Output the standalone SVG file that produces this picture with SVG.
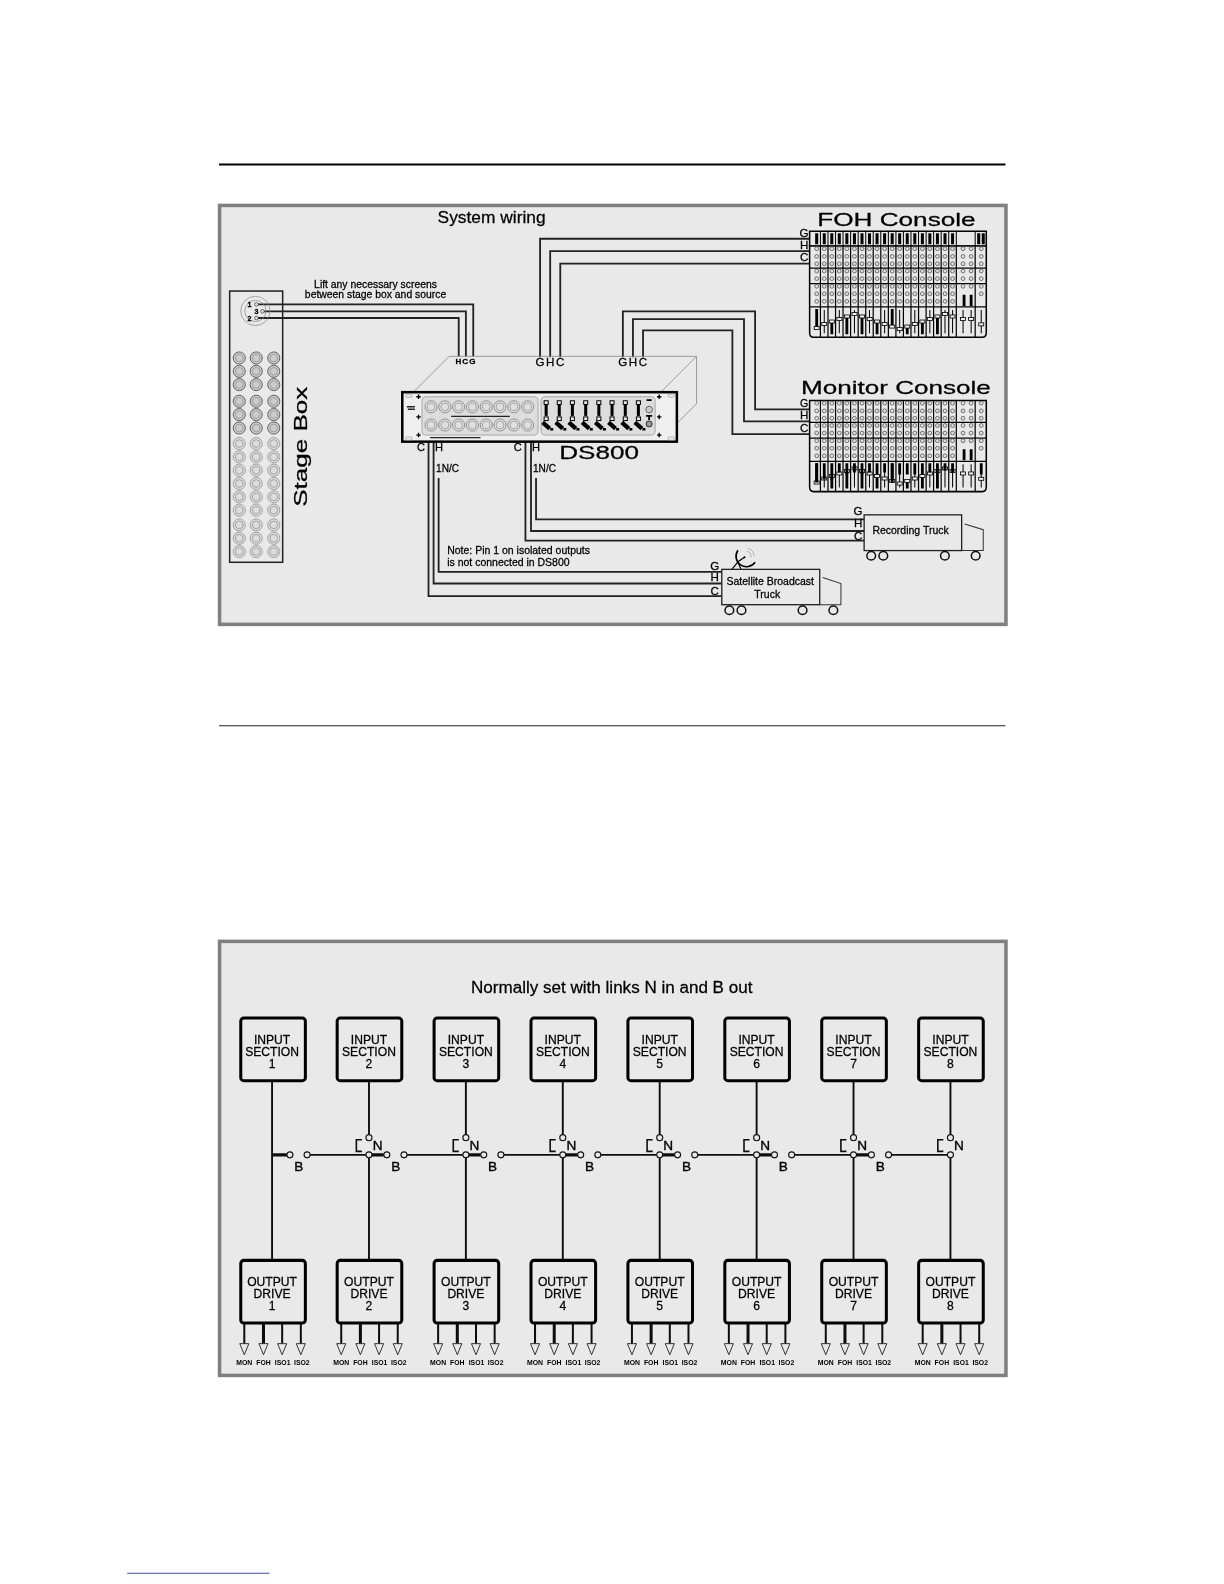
<svg xmlns="http://www.w3.org/2000/svg" width="1224" height="1584" viewBox="0 0 1224 1584">
<style>
text{font-family:"Liberation Sans",Arial,sans-serif;fill:#000;stroke:#000;stroke-width:.25}
.w{fill:none;stroke:#222;stroke-width:1.8}
.l{fill:none;stroke:#000;stroke-width:1.2}
.k{fill:#ddd;stroke:#444;stroke-width:.7}
.xd{fill:#ccc;stroke:#555;stroke-width:.9}
.xl{fill:#ddd;stroke:#999;stroke-width:.9}
.xi{fill:none;stroke:#888;stroke-width:.7}
.s10{font-size:10.4px}.lab{font-size:11.5px;text-anchor:middle}.c{text-anchor:middle}
.big{font-size:18.6px}
.box{fill:#e9e9e9;stroke:#000;stroke-width:3}
.bt{font-size:12px;text-anchor:middle}
.o{font-size:6.8px;text-anchor:middle;font-weight:bold;stroke:none}
.p{fill:#e9e9e9;stroke:#000;stroke-width:1.5}
.n{font-size:13.5px;text-anchor:middle;stroke-width:.35}
.ow{fill:none;stroke:#111;stroke-width:2;marker-end:url(#arr)}
.of{fill:none;stroke:#111;stroke-width:3;marker-end:url(#arr)}
</style>
<defs>
<filter id="soft" filterUnits="userSpaceOnUse" x="0" y="0" width="1300" height="1700"><feGaussianBlur stdDeviation=".35"/></filter>
<marker id="arr" markerUnits="userSpaceOnUse" markerWidth="13" markerHeight="11" viewBox="0 0 13 11" refX=".5" refY="5.5" orient="auto"><path d="M.5 1L11.5 5.5L.5 10Z" fill="#e9e9e9" stroke="#222" stroke-width=".9"/></marker>
<g id="sx"><circle r="6" class="xd"/><circle r="3.8" class="xi"/></g>
<g id="sl"><circle r="6" class="xl"/><circle r="3.8" class="xi"/></g>
<g id="frx"><circle r="6" fill="#e0e0e0" stroke="#888" stroke-width=".9"/><circle r="3.9" class="xi"/></g>
<g id="fader"><rect x="-2" y="-2" width="4" height="3.6" fill="#eee" stroke="#000" stroke-width="1"/><path d="M0 1.6V13" stroke="#000" stroke-width="3"/><rect x="-2" y="14" width="4" height="3.6" fill="#eee" stroke="#000" stroke-width="1"/><path d="M-3.5 19.5L3.5 25.5" stroke="#000" stroke-width="4.2"/><rect x="4" y="25" width="3" height="2.5" fill="#000"/></g>
<g id="kc"><circle cy="246.4" r="1.9" class="k"/><circle cy="254" r="1.9" class="k"/><circle cy="261.3" r="1.9" class="k"/><circle cy="268.5" r="1.9" class="k"/><circle cy="276" r="1.9" class="k"/><circle cy="283.6" r="1.9" class="k"/><circle cy="291" r="1.9" class="k"/><circle cy="298.5" r="1.9" class="k"/></g>
<g id="desk">
<path class="p" d="M802 243.7H977V329.5Q977 334 973 334H806Q802 334 802 329.5Z"/>
<path class="l" d="M812.7 243.7V334M820.2 243.7V334M827.7 243.7V334M835.1 243.7V334M842.6 243.7V334M850.1 243.7V334M857.6 243.7V334M865 243.7V334M872.5 243.7V334M880 243.7V334M887.5 243.7V334M894.9 243.7V334M902.4 243.7V334M909.9 243.7V334M917.4 243.7V334M924.8 243.7V334M932.3 243.7V334M939.8 243.7V334M947.3 243.7V334M966 243.7V334M802 265.5H977M802 281H977M802 304H977"/>
<use href="#kc" x="809"/><use href="#kc" x="816.5"/><use href="#kc" x="824"/><use href="#kc" x="831.4"/><use href="#kc" x="838.9"/><use href="#kc" x="846.4"/><use href="#kc" x="853.9"/><use href="#kc" x="861.3"/><use href="#kc" x="868.8"/><use href="#kc" x="876.3"/><use href="#kc" x="883.8"/><use href="#kc" x="891.2"/><use href="#kc" x="898.7"/><use href="#kc" x="906.2"/><use href="#kc" x="913.7"/><use href="#kc" x="921.1"/><use href="#kc" x="928.6"/><use href="#kc" x="936.1"/><use href="#kc" x="943.6"/>
<g class="k"><circle cx="954" cy="246.4" r="1.9"/><circle cx="954" cy="254" r="1.9"/><circle cx="954" cy="261.3" r="1.9"/><circle cx="954" cy="268.5" r="1.9"/><circle cx="954" cy="276" r="1.9"/><circle cx="954" cy="283.6" r="1.9"/><circle cx="962" cy="246.4" r="1.9"/><circle cx="962" cy="254" r="1.9"/><circle cx="962" cy="261.3" r="1.9"/><circle cx="962" cy="268.5" r="1.9"/><circle cx="962" cy="276" r="1.9"/><circle cx="962" cy="283.6" r="1.9"/><circle cx="972" cy="246.4" r="1.9"/><circle cx="972" cy="254" r="1.9"/><circle cx="972" cy="261.3" r="1.9"/><circle cx="972" cy="268.5" r="1.9"/><circle cx="972" cy="276" r="1.9"/><circle cx="972" cy="283.6" r="1.9"/><circle cx="972" cy="291" r="1.9"/></g>
<path stroke="#000" stroke-width="1" fill="none" d="M816.5 307V330M831.4 307V330M846.4 307V330M861.3 307V330M876.3 307V330M891.2 307V330M906.2 307V330M921.1 307V330M936.1 307V330M943.6 307V330M954 307V330M962 307V330M972 307V330"/>
<path stroke="#000" stroke-width="2.8" fill="none" d="M809 306V324M824 318V331M838.9 313V331M853.9 313V331M868.8 318V331M883.8 306V324M898.7 323V331M913.7 318V331M928.6 313V331M955 292V303M962 292V303"/>
<g fill="#eee" stroke="#000" stroke-width=".8"><rect x="806.5" y="323.5" width="5" height="3"/><rect x="814" y="319.5" width="5" height="3"/><rect x="821.5" y="317" width="5" height="3"/><rect x="829" y="314.5" width="5" height="3"/><rect x="836.5" y="312" width="5" height="3"/><rect x="844" y="309.5" width="5" height="3"/><rect x="851.5" y="312" width="5" height="3"/><rect x="859" y="314.5" width="5" height="3"/><rect x="866.3" y="317" width="5" height="3"/><rect x="873.8" y="319.5" width="5" height="3"/><rect x="881.3" y="322" width="5" height="3"/><rect x="888.7" y="324.5" width="5" height="3"/><rect x="896.2" y="322" width="5" height="3"/><rect x="903.7" y="319.5" width="5" height="3"/><rect x="911.2" y="317" width="5" height="3"/><rect x="918.6" y="314.5" width="5" height="3"/><rect x="926.1" y="312" width="5" height="3"/><rect x="933.6" y="309.5" width="5" height="3"/><rect x="941.1" y="312" width="5" height="3"/><rect x="951.5" y="314.5" width="5" height="3"/><rect x="959.5" y="314.5" width="5" height="3"/><rect x="969.5" y="319.8" width="5" height="3"/></g>
</g>
<g id="inbox"><rect class="box" x="-32" y="-31" width="64" height="62" rx="3"/></g>
<g id="fan"><path class="ow" d="M-27.5 0V21"/><path class="of" d="M-8.5 0V21"/><path class="ow" d="M10 0V21"/><path class="ow" d="M28.5 0V21"/></g>
<g id="sw"><circle cy="-17" r="3" fill="#e9e9e9" stroke="#111" stroke-width="1.1"/><circle r="3" fill="#e9e9e9" stroke="#111" stroke-width="1.1"/><path d="M-7 -15H-12.5V-3.5H-7" fill="none" stroke="#111" stroke-width="1.6"/></g>
<g id="swb"><circle cx="17.7" r="3" fill="#e9e9e9" stroke="#111" stroke-width="1.1"/><circle cx="34.7" r="3" fill="#e9e9e9" stroke="#111" stroke-width="1.1"/></g>
</defs>
<rect width="1224" height="1584" fill="#fff"/>
<g transform="scale(1.0095)" filter="url(#soft)">
<path d="M217 163H996" stroke="#000" stroke-width="2"/>
<path d="M217 719H996" stroke="#222" stroke-width="1"/>
<path d="M126 1558.5H267" stroke="#3b4aa8" stroke-width="1"/>
<rect id="panel-wiring" x="217.5" y="203.5" width="779" height="415" fill="#e9e9e9" stroke="#808080" stroke-width="3.5"/>
<rect id="panel-links" x="217.5" y="932.5" width="779" height="430" fill="#e9e9e9" stroke="#808080" stroke-width="3.5"/>
<text class="c" x="487" y="221" font-size="17.2">System wiring</text>
<text class="c" x="372" y="285" font-size="10.3">Lift any necessary screens</text>
<text class="c" x="372" y="295" font-size="10.3">between stage box and source</text>
<text class="s10" x="443" y="548.5">Note: Pin 1 on isolated outputs</text>
<text class="s10" x="443" y="561">is not connected in DS800</text>
<text class="c" x="606" y="984" font-size="16.9">Normally set with links N in and B out</text>

<g id="connectors">
<path class="w" d="M254 301.5H468.8V353M260 308.4H461.5V353M254 315H454.4V353"/>
<path class="w" d="M535 354V236.5H802M545 354V248.7H802M555 354V261.2H802"/>
<path class="w" d="M617 354V308.4H748V405.6H802M627 354V316.2H737V417.4H802M637 354V327.2H725.5V430H802"/>
<path class="w" d="M424.5 438V590.5H715M429.5 438V578H715M434.5 473.5V566.5H715"/>
<path class="w" d="M520.5 438V535.5H856M526 438V526H856M531 473.5V514.4H856"/>
<g id="links-wires" fill="none" stroke="#111" stroke-width="1.9">
<path d="M269.5 1071V1249M365.5 1071V1124M365.5 1147V1249M461.5 1071V1124M461.5 1147V1249M557.5 1071V1124M557.5 1147V1249M653.5 1071V1124M653.5 1147V1249M749.5 1071V1124M749.5 1147V1249M845.5 1071V1124M845.5 1147V1249M941.5 1071V1124M941.5 1147V1249"/>
<path d="M307.2 1144H362.5M403.2 1144H458.5M499.2 1144H554.5M595.2 1144H650.5M691.2 1144H746.5M787.2 1144H842.5M883.2 1144H938.5"/>
<path stroke-width="3" d="M269.5 1144H284.2M368.5 1144H380.2M464.5 1144H476.2M560.5 1144H572.2M656.5 1144H668.2M752.5 1144H764.2M848.5 1144H860.2"/>
</g>
<use href="#fan" x="269.5" y="1310"/><use href="#fan" x="365.5" y="1310"/><use href="#fan" x="461.5" y="1310"/><use href="#fan" x="557.5" y="1310"/><use href="#fan" x="653.5" y="1310"/><use href="#fan" x="749.5" y="1310"/><use href="#fan" x="845.5" y="1310"/><use href="#fan" x="941.5" y="1310"/>
</g>

<g id="stage-box">
<rect x="227.5" y="288.3" width="52.5" height="268.7" fill="none" stroke="#222" stroke-width="1.5"/>
<circle cx="253" cy="308" r="14.5" fill="none" stroke="#888" stroke-width=".7"/><circle cx="253" cy="308" r="10.5" fill="none" stroke="#888" stroke-width=".7"/>
<circle cx="254" cy="301.5" r="1.8" class="k"/><circle cx="260" cy="308.4" r="1.8" class="k"/><circle cx="254" cy="315" r="1.8" class="k"/>
<text x="247" y="304.5" font-size="7" font-weight="bold" text-anchor="middle">1</text><text x="254" y="311.5" font-size="7" font-weight="bold" text-anchor="middle">3</text><text x="247" y="318" font-size="7" font-weight="bold" text-anchor="middle">2</text>
<use href="#sx" x="237" y="354.6"/><use href="#sx" x="253.8" y="354.6"/><use href="#sx" x="271.2" y="354.6"/>
<use href="#sx" x="237" y="367.8"/><use href="#sx" x="253.8" y="367.8"/><use href="#sx" x="271.2" y="367.8"/>
<use href="#sx" x="237" y="381"/><use href="#sx" x="253.8" y="381"/><use href="#sx" x="271.2" y="381"/>
<use href="#sx" x="237" y="397.5"/><use href="#sx" x="253.8" y="397.5"/><use href="#sx" x="271.2" y="397.5"/>
<use href="#sx" x="237" y="410.7"/><use href="#sx" x="253.8" y="410.7"/><use href="#sx" x="271.2" y="410.7"/>
<use href="#sx" x="237" y="424"/><use href="#sx" x="253.8" y="424"/><use href="#sx" x="271.2" y="424"/>
<use href="#sl" x="237" y="439.4"/><use href="#sl" x="253.8" y="439.4"/><use href="#sl" x="271.2" y="439.4"/>
<use href="#sl" x="237" y="452.6"/><use href="#sl" x="253.8" y="452.6"/><use href="#sl" x="271.2" y="452.6"/>
<use href="#sl" x="237" y="465.8"/><use href="#sl" x="253.8" y="465.8"/><use href="#sl" x="271.2" y="465.8"/>
<use href="#sl" x="237" y="479"/><use href="#sl" x="253.8" y="479"/><use href="#sl" x="271.2" y="479"/>
<use href="#sl" x="237" y="492.2"/><use href="#sl" x="253.8" y="492.2"/><use href="#sl" x="271.2" y="492.2"/>
<use href="#sl" x="237" y="505.4"/><use href="#sl" x="253.8" y="505.4"/><use href="#sl" x="271.2" y="505.4"/>
<use href="#sl" x="237" y="520"/><use href="#sl" x="253.8" y="520"/><use href="#sl" x="271.2" y="520"/>
<use href="#sl" x="237" y="533.2"/><use href="#sl" x="253.8" y="533.2"/><use href="#sl" x="271.2" y="533.2"/>
<use href="#sl" x="237" y="546.4"/><use href="#sl" x="253.8" y="546.4"/><use href="#sl" x="271.2" y="546.4"/>
<text class="big" transform="translate(304.5 502) rotate(-90)" textLength="119" lengthAdjust="spacingAndGlyphs">Stage Box</text>
</g>

<g id="ds800">
<path d="M410 388L445 353H690L655 388M690 353V400L670 420" fill="none" stroke="#888" stroke-width=".8"/>
<rect x="398.5" y="388.5" width="272" height="49" fill="#efefef" stroke="#000" stroke-width="2.5"/>
<rect x="418" y="393" width="115" height="38" rx="4" fill="#ddd" stroke="#999" stroke-width=".8"/>
<rect x="536" y="393" width="113" height="38" rx="4" fill="#ddd" stroke="#999" stroke-width=".8"/>
<use href="#frx" x="427" y="403"/><use href="#frx" x="440.7" y="403"/><use href="#frx" x="454.3" y="403"/><use href="#frx" x="468" y="403"/><use href="#frx" x="481.7" y="403"/><use href="#frx" x="495.3" y="403"/><use href="#frx" x="509" y="403"/><use href="#frx" x="522.7" y="403"/>
<use href="#frx" x="427" y="421"/><use href="#frx" x="440.7" y="421"/><use href="#frx" x="454.3" y="421"/><use href="#frx" x="468" y="421"/><use href="#frx" x="481.7" y="421"/><use href="#frx" x="495.3" y="421"/><use href="#frx" x="509" y="421"/><use href="#frx" x="522.7" y="421"/>
<use href="#fader" x="541" y="399"/><use href="#fader" x="554" y="399"/><use href="#fader" x="567" y="399"/><use href="#fader" x="580.2" y="399"/><use href="#fader" x="593.2" y="399"/><use href="#fader" x="606.3" y="399"/><use href="#fader" x="619.4" y="399"/><use href="#fader" x="632.4" y="399"/>
<path d="M447 412.5H505M426 433.5H476" stroke="#222" stroke-width="1.1"/>
<path d="M403 403H411M404 405.5H411" stroke="#222" stroke-width="1.5"/>
<path d="M412.4 393H416.8M414.6 390.8V395.2M412.4 413H416.8M414.6 410.8V415.2M412.4 431H416.8M414.6 428.8V433.2M650.8 393H655.2M653 390.8V395.2M650.8 413H655.2M653 410.8V415.2M650.8 431H655.2M653 428.8V433.2" stroke="#000" stroke-width="1.3"/>
<path d="M640.5 396.3H645.5M640 412H646M643 412V416" stroke="#000" stroke-width="1.8"/>
<circle cx="643" cy="405.7" r="3.3" fill="#ccc" stroke="#555" stroke-width=".9"/><circle cx="643" cy="420" r="3" fill="#999" stroke="#222" stroke-width=".9"/>
<g fill="none" stroke="#999" stroke-width=".7"><rect x="402" y="390.5" width="6" height="3" rx="1"/><rect x="402" y="433" width="6" height="3" rx="1"/><rect x="662" y="390.5" width="6" height="3" rx="1"/><rect x="662" y="433" width="6" height="3" rx="1"/></g>
<text class="big" x="554" y="455" textLength="79" lengthAdjust="spacingAndGlyphs">DS800</text>
<text x="454" y="360.5" font-size="8" font-weight="bold" text-anchor="middle">H</text><text x="460.8" y="360.5" font-size="8" font-weight="bold" text-anchor="middle">C</text><text x="468" y="360.5" font-size="8" font-weight="bold" text-anchor="middle">G</text>
<text class="lab" x="535" y="363">G</text><text class="lab" x="545" y="363">H</text><text class="lab" x="555" y="363">C</text>
<text class="lab" x="617" y="363">G</text><text class="lab" x="627" y="363">H</text><text class="lab" x="637" y="363">C</text>
<text class="c" x="417" y="447" font-size="11">C</text><text class="c" x="435" y="447" font-size="11">H</text><text x="432" y="467.5" font-size="10">1N/C</text>
<text class="c" x="513" y="447" font-size="11">C</text><text class="c" x="531" y="447" font-size="11">H</text><text x="528" y="467.5" font-size="10">1N/C</text>
</g>

<g id="foh-console">
<text class="big" x="809.5" y="224" textLength="157" lengthAdjust="spacingAndGlyphs">FOH Console</text>
<path class="p" d="M802 229H977V244H802Z"/>
<use href="#desk"/>
<path d="M812.7 229V244M820.2 229V244M827.7 229V244M835.1 229V244M842.6 229V244M850.1 229V244M857.6 229V244M865 229V244M872.5 229V244M880 229V244M887.5 229V244M894.9 229V244M902.4 229V244M909.9 229V244M917.4 229V244M924.8 229V244M932.3 229V244M939.8 229V244M947.3 229V244M966 229V244" fill="none" stroke="#000" stroke-width="1"/>
<path d="M809 231V242M816.5 231V242M824 231V242M831.4 231V242M838.9 231V242M846.4 231V242M853.9 231V242M861.3 231V242M868.8 231V242M876.3 231V242M883.8 231V242M891.2 231V242M898.7 231V242M906.2 231V242M913.7 231V242M921.1 231V242M928.6 231V242M936.1 231V242M943.6 231V242M969.5 231V242M974 231V242" stroke="#000" stroke-width="3"/>
<text class="lab" x="796.5" y="234.5">G</text><text class="lab" x="796.5" y="246.5">H</text><text class="lab" x="796.5" y="259">C</text>
</g>

<g id="monitor-console">
<text class="big" x="793.5" y="389.8" textLength="188" lengthAdjust="spacingAndGlyphs">Monitor Console</text>
<use href="#desk" y="153"/>
<path d="M809 459V478M816.5 459V475M824 459V475M831.4 459V468M838.9 459V470M846.4 459V468M853.9 459V470M861.3 459V468M868.8 459V470M876.3 459V468M883.8 459V478M891.2 459V470M898.7 459V470M906.2 459V470M913.7 459V470M921.1 459V468M928.6 459V468M936.1 459V466M943.6 459V468M972 459V470" stroke="#000" stroke-width="2.8"/>
<text class="lab" x="796.5" y="403.5" style="font-size:10.5px">G</text><text class="lab" x="796.5" y="415">H</text><text class="lab" x="796.5" y="427.5">C</text>
</g>

<g id="recording-truck">
<rect x="856" y="510" width="96.6" height="35.4" fill="#e9e9e9" stroke="#222" stroke-width="1.3"/>
<path d="M955.6 519L974 524.7V545.4H952.6" fill="none" stroke="#333" stroke-width="1"/>
<g fill="none" stroke="#111" stroke-width="1.5"><circle cx="863" cy="550.5" r="4.3"/><circle cx="875" cy="550.5" r="4.3"/><circle cx="936" cy="550.5" r="4.3"/><circle cx="966.5" cy="550.5" r="4.3"/></g>
<text class="c s10" x="902" y="528.5">Recording Truck</text>
<text class="lab" x="850" y="510.5">G</text><text class="lab" x="850" y="522">H</text><text class="lab" x="850" y="534.5">C</text>
</g>

<g id="satellite-truck">
<path d="M731 545A10 10 0 0 0 748 557" fill="none" stroke="#000" stroke-width="1.6"/>
<path d="M731 556.5L725 564M731 556.5L734 564M737.5 552L731 556.5" stroke="#000" stroke-width="1.2"/><circle cx="737.5" cy="552" r="1" fill="#000"/>
<path d="M740 546A6 6 0 0 1 744 552M741 543A9 9 0 0 1 747 551" fill="none" stroke="#888" stroke-width=".6"/>
<rect x="715" y="564" width="97" height="35" fill="#e9e9e9" stroke="#222" stroke-width="1.3"/>
<path d="M815 572L833 578V599H812" fill="none" stroke="#333" stroke-width="1"/>
<g fill="none" stroke="#111" stroke-width="1.5"><circle cx="722.5" cy="604.5" r="4.3"/><circle cx="734.5" cy="604.5" r="4.3"/><circle cx="795" cy="604.5" r="4.3"/><circle cx="825.5" cy="604.5" r="4.3"/></g>
<text class="c s10" x="763" y="579">Satellite Broadcast</text>
<text class="c s10" x="760" y="592">Truck</text>
<text class="lab" x="708" y="564.5">G</text><text class="lab" x="708" y="576">H</text><text class="lab" x="708" y="589">C</text>
</g>

<g id="input-1"><use href="#inbox" x="270.5" y="1039.5"/><text class="bt" x="269.5" y="1034">INPUT</text><text class="bt" x="269.5" y="1046">SECTION</text><text class="bt" x="269.5" y="1058">1</text></g>
<g id="input-2"><use href="#inbox" x="366" y="1039.5"/><text class="bt" x="365.5" y="1034">INPUT</text><text class="bt" x="365.5" y="1046">SECTION</text><text class="bt" x="365.5" y="1058">2</text></g>
<g id="input-3"><use href="#inbox" x="462" y="1039.5"/><text class="bt" x="461.5" y="1034">INPUT</text><text class="bt" x="461.5" y="1046">SECTION</text><text class="bt" x="461.5" y="1058">3</text></g>
<g id="input-4"><use href="#inbox" x="558" y="1039.5"/><text class="bt" x="557.5" y="1034">INPUT</text><text class="bt" x="557.5" y="1046">SECTION</text><text class="bt" x="557.5" y="1058">4</text></g>
<g id="input-5"><use href="#inbox" x="654" y="1039.5"/><text class="bt" x="653.5" y="1034">INPUT</text><text class="bt" x="653.5" y="1046">SECTION</text><text class="bt" x="653.5" y="1058">5</text></g>
<g id="input-6"><use href="#inbox" x="750" y="1039.5"/><text class="bt" x="749.5" y="1034">INPUT</text><text class="bt" x="749.5" y="1046">SECTION</text><text class="bt" x="749.5" y="1058">6</text></g>
<g id="input-7"><use href="#inbox" x="846" y="1039.5"/><text class="bt" x="845.5" y="1034">INPUT</text><text class="bt" x="845.5" y="1046">SECTION</text><text class="bt" x="845.5" y="1058">7</text></g>
<g id="input-8"><use href="#inbox" x="942" y="1039.5"/><text class="bt" x="941.5" y="1034">INPUT</text><text class="bt" x="941.5" y="1046">SECTION</text><text class="bt" x="941.5" y="1058">8</text></g>

<g id="link-1"><use href="#swb" x="269.5" y="1144"/><text class="n" x="296" y="1160">B</text></g>
<g id="link-2"><use href="#sw" x="365.5" y="1144"/><use href="#swb" x="365.5" y="1144"/><text class="n" x="374" y="1139">N</text><text class="n" x="392" y="1160">B</text></g>
<g id="link-3"><use href="#sw" x="461.5" y="1144"/><use href="#swb" x="461.5" y="1144"/><text class="n" x="470" y="1139">N</text><text class="n" x="488" y="1160">B</text></g>
<g id="link-4"><use href="#sw" x="557.5" y="1144"/><use href="#swb" x="557.5" y="1144"/><text class="n" x="566" y="1139">N</text><text class="n" x="584" y="1160">B</text></g>
<g id="link-5"><use href="#sw" x="653.5" y="1144"/><use href="#swb" x="653.5" y="1144"/><text class="n" x="662" y="1139">N</text><text class="n" x="680" y="1160">B</text></g>
<g id="link-6"><use href="#sw" x="749.5" y="1144"/><use href="#swb" x="749.5" y="1144"/><text class="n" x="758" y="1139">N</text><text class="n" x="776" y="1160">B</text></g>
<g id="link-7"><use href="#sw" x="845.5" y="1144"/><use href="#swb" x="845.5" y="1144"/><text class="n" x="854" y="1139">N</text><text class="n" x="872" y="1160">B</text></g>
<g id="link-8"><use href="#sw" x="941.5" y="1144"/><text class="n" x="950" y="1139">N</text></g>

<g id="output-1"><use href="#inbox" x="270.5" y="1279.5"/><text class="bt" x="269.5" y="1274">OUTPUT</text><text class="bt" x="269.5" y="1286">DRIVE</text><text class="bt" x="269.5" y="1298">1</text><text class="o" x="242" y="1352">MON</text><text class="o" x="261" y="1352">FOH</text><text class="o" x="280" y="1352">ISO1</text><text class="o" x="299" y="1352">ISO2</text></g>
<g id="output-2"><use href="#inbox" x="366" y="1279.5"/><text class="bt" x="365.5" y="1274">OUTPUT</text><text class="bt" x="365.5" y="1286">DRIVE</text><text class="bt" x="365.5" y="1298">2</text><text class="o" x="338" y="1352">MON</text><text class="o" x="357" y="1352">FOH</text><text class="o" x="376" y="1352">ISO1</text><text class="o" x="395" y="1352">ISO2</text></g>
<g id="output-3"><use href="#inbox" x="462" y="1279.5"/><text class="bt" x="461.5" y="1274">OUTPUT</text><text class="bt" x="461.5" y="1286">DRIVE</text><text class="bt" x="461.5" y="1298">3</text><text class="o" x="434" y="1352">MON</text><text class="o" x="453" y="1352">FOH</text><text class="o" x="472" y="1352">ISO1</text><text class="o" x="491" y="1352">ISO2</text></g>
<g id="output-4"><use href="#inbox" x="558" y="1279.5"/><text class="bt" x="557.5" y="1274">OUTPUT</text><text class="bt" x="557.5" y="1286">DRIVE</text><text class="bt" x="557.5" y="1298">4</text><text class="o" x="530" y="1352">MON</text><text class="o" x="549" y="1352">FOH</text><text class="o" x="568" y="1352">ISO1</text><text class="o" x="587" y="1352">ISO2</text></g>
<g id="output-5"><use href="#inbox" x="654" y="1279.5"/><text class="bt" x="653.5" y="1274">OUTPUT</text><text class="bt" x="653.5" y="1286">DRIVE</text><text class="bt" x="653.5" y="1298">5</text><text class="o" x="626" y="1352">MON</text><text class="o" x="645" y="1352">FOH</text><text class="o" x="664" y="1352">ISO1</text><text class="o" x="683" y="1352">ISO2</text></g>
<g id="output-6"><use href="#inbox" x="750" y="1279.5"/><text class="bt" x="749.5" y="1274">OUTPUT</text><text class="bt" x="749.5" y="1286">DRIVE</text><text class="bt" x="749.5" y="1298">6</text><text class="o" x="722" y="1352">MON</text><text class="o" x="741" y="1352">FOH</text><text class="o" x="760" y="1352">ISO1</text><text class="o" x="779" y="1352">ISO2</text></g>
<g id="output-7"><use href="#inbox" x="846" y="1279.5"/><text class="bt" x="845.5" y="1274">OUTPUT</text><text class="bt" x="845.5" y="1286">DRIVE</text><text class="bt" x="845.5" y="1298">7</text><text class="o" x="818" y="1352">MON</text><text class="o" x="837" y="1352">FOH</text><text class="o" x="856" y="1352">ISO1</text><text class="o" x="875" y="1352">ISO2</text></g>
<g id="output-8"><use href="#inbox" x="942" y="1279.5"/><text class="bt" x="941.5" y="1274">OUTPUT</text><text class="bt" x="941.5" y="1286">DRIVE</text><text class="bt" x="941.5" y="1298">8</text><text class="o" x="914" y="1352">MON</text><text class="o" x="933" y="1352">FOH</text><text class="o" x="952" y="1352">ISO1</text><text class="o" x="971" y="1352">ISO2</text></g>
</g>
</svg>
